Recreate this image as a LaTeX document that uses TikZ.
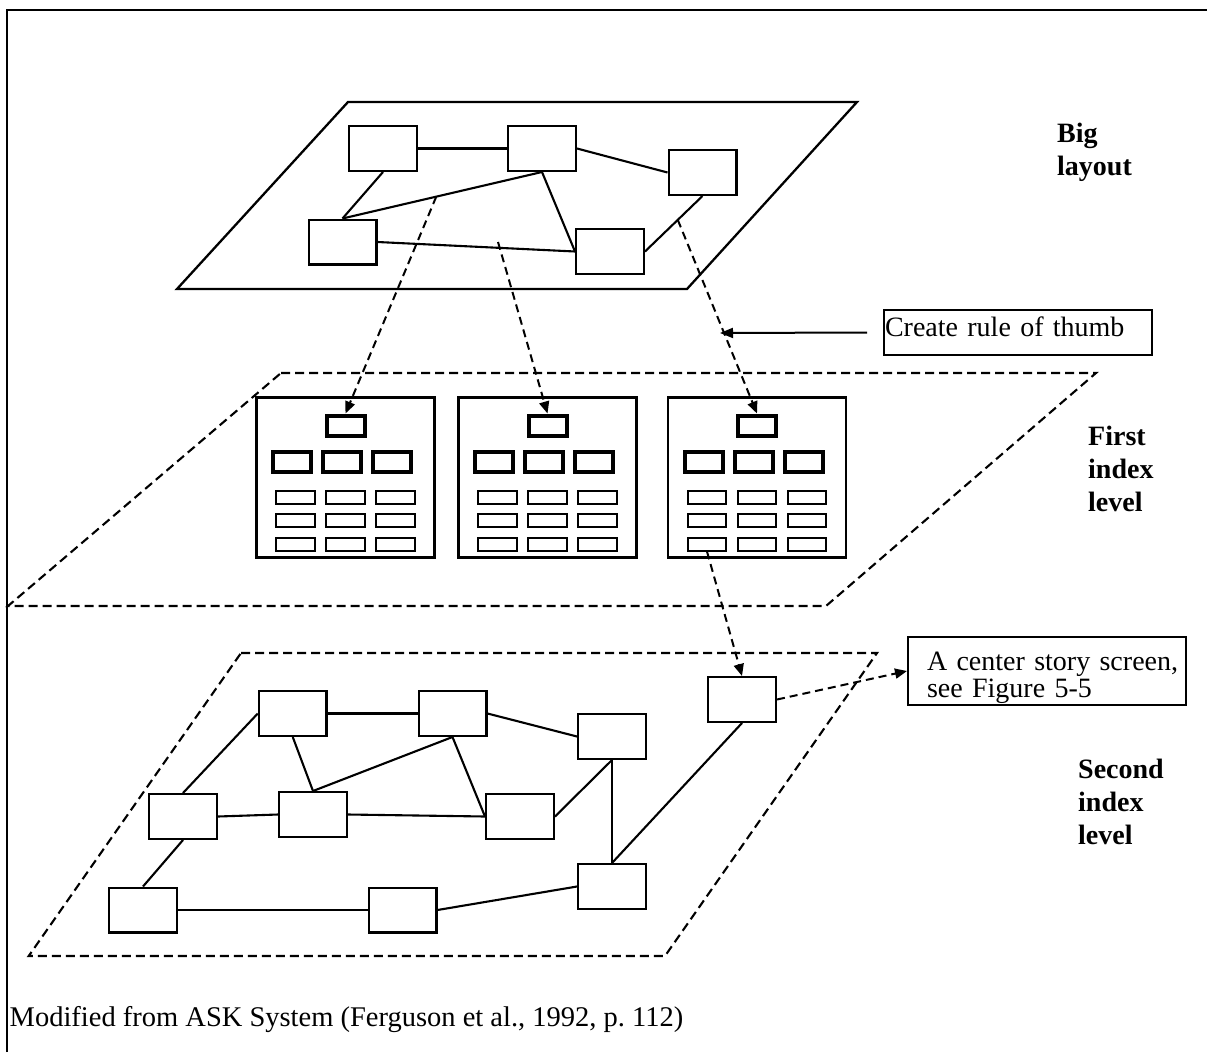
\documentclass[tikz,border=0pt]{standalone}
\usepackage{fontspec}
\setmainfont{Liberation Serif}
\usetikzlibrary{arrows.meta}
\begin{document}
\begin{tikzpicture}[x=1pt, y=-1pt,
  every node/.style={font=\fontsize{28}{33}\selectfont},
  framerule/.style={line width=2.4pt},
  sheet/.style={line width=2.3pt, line join=miter},
  dashsheet/.style={line width=2.1pt, dash pattern=on 9pt off 5pt},
  link/.style={line width=2.1pt},
  netbox/.style={draw, line width=2.3pt, minimum width=67.7pt, minimum height=44.7pt, inner sep=0pt},
  screen/.style={draw, line width=2.8pt, minimum width=178pt, minimum height=160pt, inner sep=0pt},
  headbox/.style={draw, line width=4pt, minimum width=38pt, minimum height=20pt, inner sep=0pt},
  cellbox/.style={draw, line width=1.9pt, minimum width=38.2pt, minimum height=12.8pt, inner sep=0pt},
  jump/.style={line width=2pt, dash pattern=on 8pt off 5pt, -{Triangle[length=12pt,width=10pt]}},
  pointer/.style={line width=2pt, -{Triangle[length=13pt,width=10pt]}},
  levelname/.style={font=\fontsize{28}{33}\selectfont\bfseries, align=left, anchor=base west, inner sep=0pt},
  note/.style={draw, line width=2pt, align=left}
]
\useasboundingbox (0,0) rectangle (1207,1052);

% outer frame (top and left edges)
\draw[framerule] (7,1052) -- (7,10) -- (1207,10);

% ---------- big layout sheet ----------
\draw[sheet] (348,102) -- (857,102) -- (687,289) -- (177,289) -- cycle;
\node[netbox] (tA) at (383,148.5) {};
\node[netbox] (tB) at (542,148.5) {};
\node[netbox] (tC) at (702.5,172.5) {};
\node[netbox] (tD) at (342.5,242) {};
\node[netbox] (tE) at (610,251.5) {};
\draw[link] (tA.east) -- (tB.west);
\draw[link] (tB.east) -- (tC.west);
\draw[link] (tA.south) -- (tD.north);
\draw[link] (tD.north) -- (tB.south);
\draw[link] (tB.south) -- (tE.west);
\draw[link] (tD.east) -- (tE.west);
\draw[link] (tE.east) -- (tC.south);

% the base anchor of a multi-line name sits on its last line
\node[levelname] (bigname) at (1057,175) {Big\\layout};

% ---------- first index level ----------
\draw[dashsheet] (281,373) -- (1096,373) -- (826,606) -- (8,606) -- cycle;
\foreach \i/\cx in {1/345.5, 2/547.5, 3/757} {
  \node[screen] (p\i) at (\cx,477.5) {};
  \node[headbox] (p\i-t) at (\cx,425.5) {};
  \foreach \j/\dx in {1/-53.5, 2/-3.5, 3/46.5}
    \node[headbox] (p\i-m\j) at ({\cx+\dx},462) {};
  \foreach \r/\cy in {1/497.3, 2/520.5, 3/544.2}
    \foreach \j in {1,2,3}
      \node[cellbox] (p\i-c\r\j) at ({\cx+50*(\j-2)},\cy) {};
}
\node[levelname] (firstname) at (1088,511) {First\\index\\level};

% drill-down arrows from the big layout
\path (tD.north) -- (tB.south) coordinate[pos=0.47] (s1);
\coordinate (s2) at (498,242);
\path (tE.east) -- (tC.south) coordinate[pos=0.57] (s3);
\draw[jump] (s1) -- (p1-t.north);
\draw[jump] (s2) -- (p2-t.north);
\draw[jump] (s3) -- (p3-t.north);

% rule of thumb note
\node[note, text width=266pt, inner xsep=1pt, inner ysep=0pt, minimum height=45pt,
      text height=19pt, text depth=11pt] (rule) at (1018,332.5) {Create rule of thumb};
\coordinate (thumbtail) at ([xshift=-16pt]rule.west);
\coordinate (thumbtip) at (720,333);
\draw[pointer] (thumbtail) -- (thumbtip);

% ---------- second index level ----------
\draw[dashsheet] (241,653) -- (877,653) -- (665,956) -- (28.7,956) -- cycle;
\node[netbox] (b1) at (292.75,713.5) {};
\node[netbox] (b2) at (452.5,713.5) {};
\node[netbox] (b3) at (612,736.5) {};
\node[netbox] (b4) at (183,816.5) {};
\node[netbox] (b5) at (313,814.5) {};
\node[netbox] (b6) at (520,816.5) {};
\node[netbox] (b7) at (612,886.5) {};
\node[netbox] (b8) at (143,910) {};
\node[netbox] (b9) at (402.5,910) {};
\node[netbox] (b10) at (742,699.5) {};
\draw[link] (b1.east) -- (b2.west);
\draw[link] (b2.east) -- (b3.west);
\draw[link] (b1.west) -- (b4.north);
\draw[link] (b1.south) -- (b5.north);
\draw[link] (b5.north) -- (b2.south);
\draw[link] (b2.south) -- (b6.west);
\draw[link] (b4.east) -- (b5.west);
\draw[link] (b5.east) -- (b6.west);
\draw[link] (b6.east) -- (b3.south);
\draw[link] (b3.south) -- (b7.north);
\draw[link] (b4.south) -- (b8.north);
\draw[link] (b8.east) -- (b9.west);
\draw[link] (b9.east) -- (b7.west);
\draw[link] (b7.north) -- (b10.south);

\node[levelname] (secondname) at (1078,844) {Second\\index\\level};

% story screen note
\node[note, text width=270pt, inner xsep=4pt, inner ysep=0pt, minimum width=278pt,
      minimum height=68pt, font=\fontsize{28}{27}\selectfont] (story) at (1047,671)
  {\rule{0pt}{32pt}\hspace*{15pt}A center story screen,\\\hspace*{15pt}see Figure 5-5};

\draw[jump] (p3-c31.south) -- (b10.north);
\draw[jump] (b10.east) -- (story.west);

% source line
\node[anchor=base west, inner sep=0pt, font=\fontsize{28.5}{33}\selectfont] (source)
  at (9.5,1026) {Modified from ASK System (Ferguson et al., 1992, p.\ 112)};
\end{tikzpicture}
\end{document}
